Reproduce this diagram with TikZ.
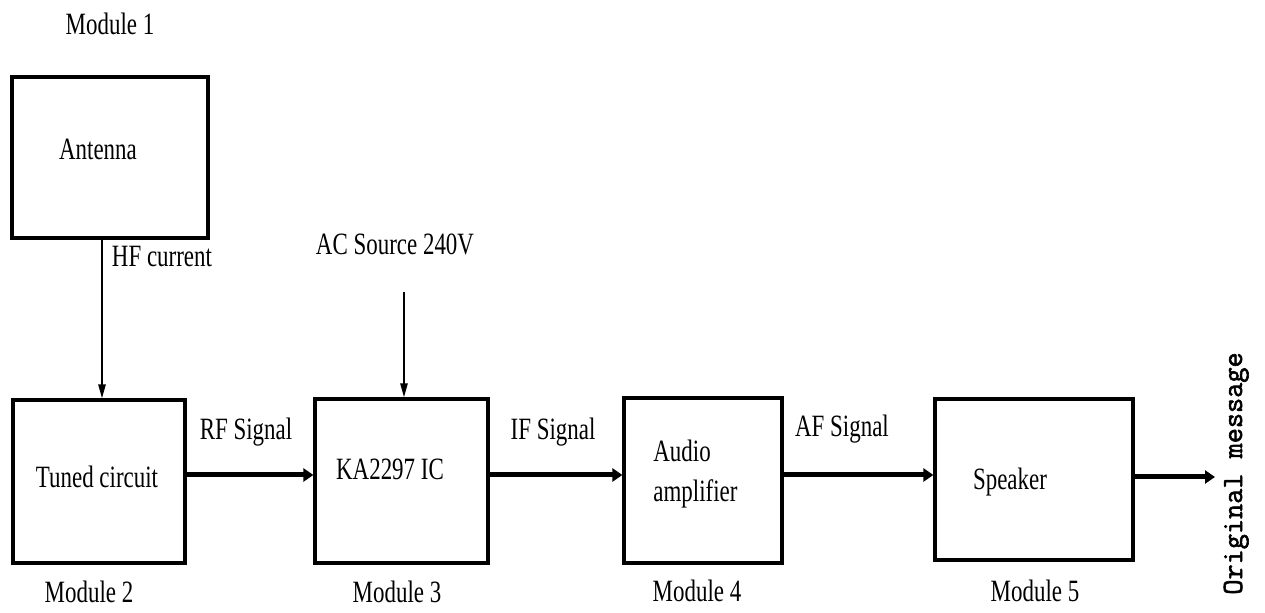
\documentclass[tikz,border=0pt]{standalone}
\usepackage{fontspec}
\usepackage{graphicx}
\setmainfont{Liberation Serif}
\newfontfamily\msgfont{Latin Modern Mono}[FakeBold=2]
\usetikzlibrary{arrows.meta}
\newcommand{\nar}[1]{\scalebox{0.74}[1]{#1}}
\tikzset{
  box/.style={draw, line width=1.6pt, inner sep=0pt},
  lbl/.style={inner sep=0pt, anchor=base, font=\fontsize{15.5}{20}\selectfont},
  sig/.style={line width=2.5pt, -{Triangle[length=5pt,width=6.5pt]}},
  feed/.style={line width=1pt, -{Triangle[length=7pt,width=3.6pt]}}
}
\begin{document}
\begin{tikzpicture}[x=0.5pt,y=-0.5pt]
\useasboundingbox (0,0) rectangle (1265,613);
% boxes
\node[box, minimum width=98pt, minimum height=80.5pt] (antenna) at (110,157.5) {};
\node[box, minimum width=86pt, minimum height=81.5pt] (tuned) at (99,481.5) {};
\node[box, minimum width=86.5pt, minimum height=82pt] (ka) at (401.5,481) {};
\node[box, minimum width=79pt, minimum height=82.5pt] (audio) at (703,480.5) {};
\node[box, minimum width=99pt, minimum height=80.5pt] (speaker) at (1034,479.5) {};
% texts inside boxes
\node[lbl] (tAnt) at (98,160) {\nar{Antenna}};
\node[lbl] (tTuned) at (97,488) {\nar{Tuned circuit}};
\node[lbl] (tKa) at (390,480) {\nar{KA2297 IC}};
\node[lbl, anchor=base west] (tAudio) at (653,462) {\nar{\begin{tabular}[t]{@{}l@{}}Audio\\amplifier\end{tabular}}};
\node[lbl] (tSpk) at (1010,490) {\nar{Speaker}};
% module labels
\node[lbl] (m1) at (110,35) {\nar{Module 1}};
\node[lbl] (m2) at (89,603) {\nar{Module 2}};
\node[lbl] (m3) at (397,603) {\nar{Module 3}};
\node[lbl] (m4) at (697,602) {\nar{Module 4}};
\node[lbl] (m5) at (1035,602) {\nar{Module 5}};
% connector labels
\node[lbl] (lHF) at (162,267) {\nar{HF current}};
\node[lbl] (lAC) at (395,255) {\nar{AC Source 240V}};
\node[lbl] (lRF) at (246,440) {\nar{RF Signal}};
\node[lbl] (lIF) at (553,440) {\nar{IF Signal}};
\node[lbl] (lAF) at (842,437) {\nar{AF Signal}};
\node[inner sep=0pt, anchor=base, rotate=90, font=\msgfont\fontsize{14.7}{17}\selectfont] (lOut) at (1242,473.5) {Original message};
% coordinates
\coordinate (acsrc) at (404,292);
\coordinate (outend) at (1215,477);
% connectors
\draw[feed] (102,0 |- antenna.south) -- (102,0 |- tuned.north);
\draw[feed] (acsrc) -- (acsrc |- ka.north);
\draw[sig] (tuned.east |- 0,475) -- (ka.west |- 0,475);
\draw[sig] (ka.east |- 0,475) -- (audio.west |- 0,475);
\draw[sig] (audio.east |- 0,475) -- (speaker.west |- 0,475);
\draw[sig] (speaker.east |- outend) -- (outend);
\end{tikzpicture}
\end{document}
